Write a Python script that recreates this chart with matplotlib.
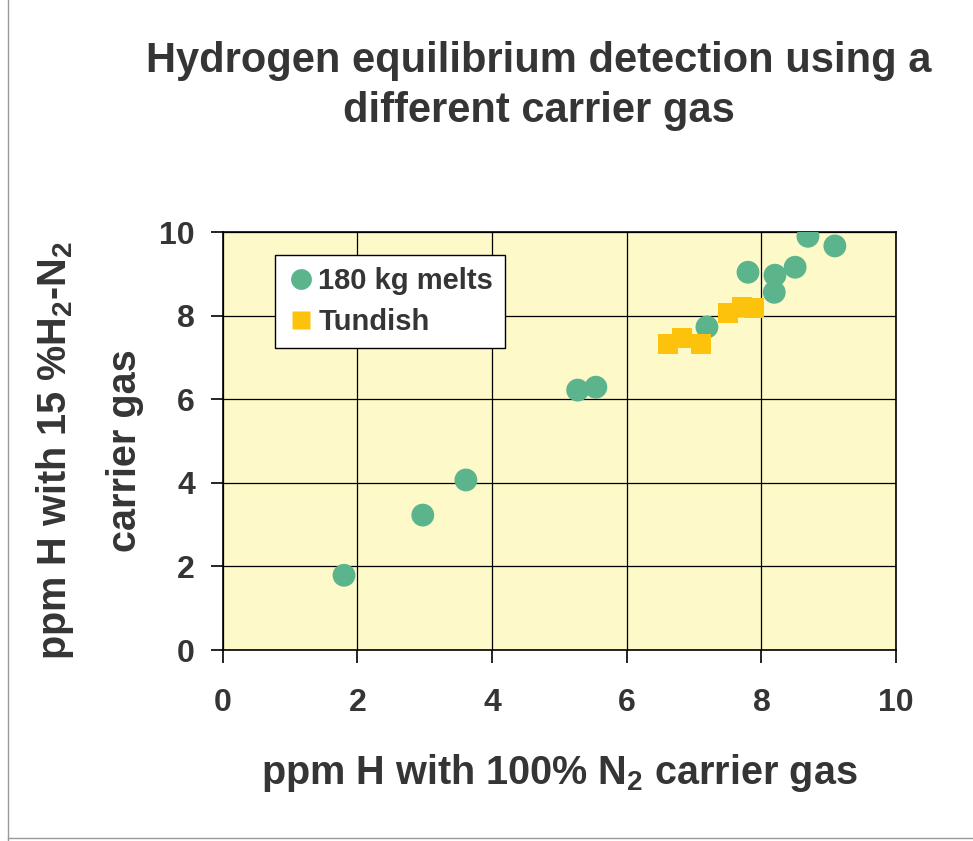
import matplotlib.pyplot as plt
from matplotlib.lines import Line2D

# -------------------------------
# data
# -------------------------------
melts_x = [1.80, 2.97, 3.61, 5.27, 5.54, 7.19, 7.80, 8.19, 8.20, 8.50, 8.69, 9.09]
melts_y = [1.79, 3.23, 4.07, 6.22, 6.29, 7.73, 9.04, 8.56, 8.97, 9.16, 9.90, 9.67]

tundish_x = [6.61, 6.82, 7.10, 7.50, 7.71, 7.89]
tundish_y = [7.32, 7.46, 7.32, 8.06, 8.21, 8.18]

ticks = [0, 2, 4, 6, 8, 10]

plt.rcParams['font.family'] = ['Liberation Sans', 'DejaVu Sans']
plt.rcParams['font.weight'] = 'bold'
plt.rcParams['mathtext.fontset'] = 'custom'
plt.rcParams['mathtext.rm'] = 'Liberation Sans:bold'
plt.rcParams['mathtext.default'] = 'rm'

txt = '#353535'

fig = plt.figure(figsize=(9.73, 8.41), dpi=100)
fig.patch.set_facecolor('white')
ax = fig.add_axes([0.229, 0.227, 0.692, 0.497])
ax.set_facecolor('#fdf9c9')

ax.scatter(melts_x, melts_y, s=270, c='#5bb48c', marker='o', edgecolors='none',
           zorder=3, label='180 kg melts')
ax.scatter(tundish_x, tundish_y, s=200, c='#fdc30c', marker='s', edgecolors='none',
           zorder=3, label='Tundish')

ax.set_xlim(0, 10)
ax.set_ylim(0, 10)
ax.set_xticks(ticks)
ax.set_yticks(ticks)
ax.grid(True, color='black', linewidth=0.9)
ax.set_axisbelow(True)
for s in ax.spines.values():
    s.set_color('black')
    s.set_linewidth(1.2)
ax.tick_params(direction='out', length=9, width=1.2, colors='black',
               labelcolor=txt, labelsize=23)
ax.tick_params(axis='x', pad=18)
ax.tick_params(axis='y', pad=11)

ax.set_xlabel('ppm H with 100% N$_2$ carrier gas', fontsize=28.5, color=txt,
              fontweight='bold', labelpad=25)
ax.set_ylabel('ppm H with 15 %H$_2$-N$_2$\ncarrier gas', fontsize=28.5, color=txt,
              fontweight='bold', labelpad=11, linespacing=2.0)
ax.yaxis.label.set_y(0.478)

fig.suptitle('Hydrogen equilibrium detection using a\ndifferent carrier gas',
             fontsize=30, color=txt, fontweight='bold', y=0.951, x=0.554,
             linespacing=1.3)

handles = [
    Line2D([], [], marker='o', linestyle='none', markersize=15,
           markerfacecolor='#5bb48c', markeredgecolor='none'),
    Line2D([], [], marker='s', linestyle='none', markersize=13,
           markerfacecolor='#fdc30c', markeredgecolor='none'),
]
leg = ax.legend(handles, ['180 kg melts', 'Tundish'], loc='upper left',
                bbox_to_anchor=(0.077, 0.945), fontsize=21, frameon=True,
                fancybox=False, handletextpad=0.1, handlelength=1.0,
                borderpad=0.4, labelspacing=0.45, borderaxespad=0)
leg.get_frame().set_edgecolor('black')
leg.get_frame().set_linewidth(1.0)
leg.get_frame().set_alpha(1)
for t in leg.get_texts():
    t.set_color(txt)

# scan frame on the left and bottom
fig.add_artist(Line2D([0.008, 0.008], [0.0, 1.0], color='#999999', linewidth=1.0))
fig.add_artist(Line2D([0.008, 1.0], [0.004, 0.004], color='#999999', linewidth=1.0))

plt.savefig('out.png', dpi=100)
plt.close()
